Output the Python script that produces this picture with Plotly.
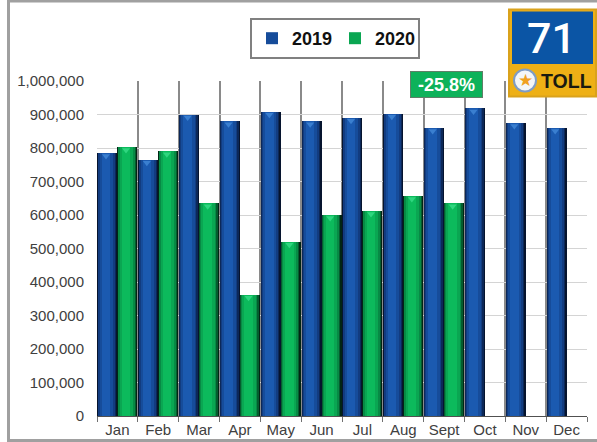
import plotly.graph_objects as go

months = ["Jan", "Feb", "Mar", "Apr", "May", "Jun", "Jul", "Aug", "Sept", "Oct", "Nov", "Dec"]
values_2019 = [785000, 765000, 900000, 880000, 908000, 880000, 890000, 902000, 860000, 918000, 875000, 860000]
values_2020 = [803000, 790000, 635000, 362000, 520000, 600000, 612000, 657000, 635000]
y_ticks = [0, 100000, 200000, 300000, 400000, 500000, 600000, 700000, 800000, 900000, 1000000]

W, H = 597, 442
L, R, T, B = 97, 587, 81, 416
BAR = 0.49

blue_layers = [(0.0, 1.0, "#06142e"), (0.02, 0.91, "#0c2858"), (0.05, 0.82, "#123c80"),
               (0.12, 0.66, "#164c9a"), (0.22, 0.42, "#1b5ab0")]
green_layers = [(0.0, 1.0, "#022514"), (0.02, 0.91, "#045c2e"), (0.05, 0.82, "#078a45"),
                (0.12, 0.66, "#0aa652"), (0.22, 0.42, "#0cba5c")]


def px_x(p):
    return (p - L) / (R - L)


def px_y(p):
    return (B - p) / (B - T)


fig = go.Figure()


def add_series(name, values, layers, start, tip):
    xs = list(range(len(values)))
    for k, (off, wid, col) in enumerate(layers):
        fig.add_trace(go.Bar(
            x=xs, y=values, name=name, legendgroup=name, showlegend=(k == 3),
            offset=start + off * BAR, width=wid * BAR,
            marker=dict(color=col, line=dict(width=0)),
        ))
    fig.add_trace(go.Scatter(
        x=[i + start + 0.43 * BAR for i in xs], y=[v - 9000 for v in values], mode="markers",
        showlegend=False, legendgroup=name,
        marker=dict(symbol="triangle-down", size=7, color=tip, line=dict(width=0)),
    ))


add_series("2019", values_2019, blue_layers, -0.49, "#3a7fd0")
add_series("2020", values_2020, green_layers, 0.0, "#2fd67f")

shapes = [
    dict(type="rect", xref="paper", yref="paper", layer="above",
         x0=px_x(8.5), x1=px_x(W + 5), y0=px_y(1), y1=px_y(440.5),
         line=dict(color="#a0a0a0", width=3), fillcolor="rgba(0,0,0,0)"),
    dict(type="rect", xref="paper", yref="paper", layer="above",
         x0=px_x(509), x1=px_x(596), y0=px_y(9.5), y1=px_y(96.5),
         line=dict(color="#d9a21c", width=2), fillcolor="#eeb016"),
    dict(type="rect", xref="paper", yref="paper", layer="above",
         x0=px_x(512), x1=px_x(593), y0=px_y(11.5), y1=px_y(64),
         line=dict(width=0), fillcolor="#0b55a5"),
    dict(type="circle", xref="paper", yref="paper", layer="above",
         x0=px_x(514), x1=px_x(536), y0=px_y(69.5), y1=px_y(91.5),
         line=dict(color="#7f9cc4", width=2), fillcolor="#f4f6f8"),
]

annotations = [
    dict(text="71", xref="paper", yref="paper", x=px_x(551), y=px_y(38), showarrow=False,
         xanchor="center", yanchor="middle",
         font=dict(family="Roboto", size=43, color="white", weight=500)),
    dict(text="★", xref="paper", yref="paper", x=px_x(525), y=px_y(80), showarrow=False,
         xanchor="center", yanchor="middle",
         font=dict(family="DejaVu Sans", size=17, color="#f0a020")),
    dict(text="<b>TOLL</b>", xref="paper", yref="paper", x=px_x(566), y=px_y(81), showarrow=False,
         xanchor="center", yanchor="middle",
         font=dict(family="Liberation Sans", size=19.5, color="#1a1a10")),
    dict(text="<b>-25.8%</b>", xref="paper", yref="paper", x=px_x(446), y=px_y(84.5), showarrow=False,
         xanchor="center", yanchor="middle",
         font=dict(family="Liberation Sans", size=18, color="white"),
         bgcolor="#0db25a", bordercolor="#5f7f68", borderwidth=1, width=69, height=23),
]

fig.update_layout(
    width=W, height=H, autosize=False,
    margin=dict(l=L, r=W - R, t=T, b=H - B, pad=0, autoexpand=False),
    paper_bgcolor="white", plot_bgcolor="white",
    barmode="overlay", bargap=0,
    showlegend=True,
    legend=dict(orientation="h", x=px_x(250), y=px_y(18), xanchor="left", yanchor="top",
                bgcolor="white", bordercolor="#808080", borderwidth=2,
                entrywidth=38, entrywidthmode="pixels",
                font=dict(family="Liberation Sans", size=18, color="#111111", weight="bold"),
                traceorder="normal"),
    xaxis=dict(
        range=[-0.5, 11.5], tickvals=list(range(12)), ticktext=months,
        showgrid=False, zeroline=False, showline=True, linecolor="#505050", linewidth=1,
        ticks="", ticklen=0,
        tickfont=dict(family="Liberation Sans", size=15, color="#404040"),
        minor=dict(tickvals=[i - 0.5 for i in range(13)], ticks="outside", ticklen=5,
                   tickcolor="#707070", tickwidth=1, showgrid=True,
                   gridcolor="#8a8a8a", gridwidth=2),
    ),
    yaxis=dict(
        range=[0, 1000000], tickvals=y_ticks, tickformat=",d",
        showgrid=True, gridcolor="#d4d4d4", gridwidth=1, zeroline=False,
        showline=False, ticks="outside", ticklen=9, tickcolor="rgba(0,0,0,0)",
        tickfont=dict(family="Liberation Sans", size=15, color="#404040"),
    ),
    shapes=shapes, annotations=annotations,
)

fig.write_html("out.html", config={"displayModeBar": False},
               post_script="document.body.style.margin='0';")
